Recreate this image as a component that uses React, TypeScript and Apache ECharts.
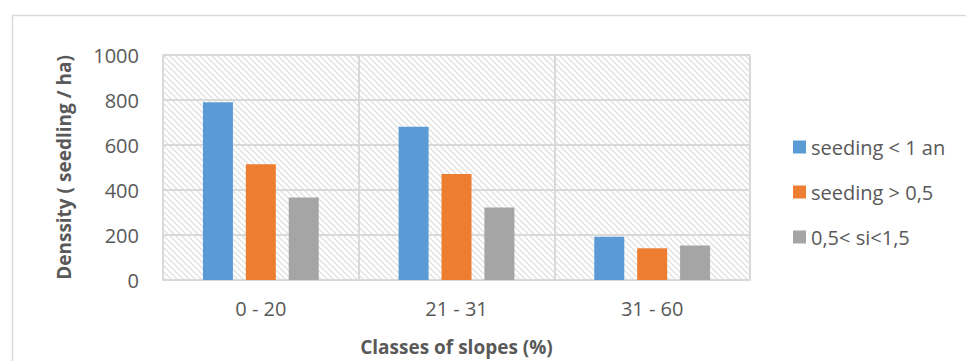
import React, { useEffect, useRef } from "react";
import * as echarts from "echarts";

const categories = ["0 - 20", "21 - 31", "31 - 60"];
const seriesNames = ["seeding < 1 an", "seeding > 0,5", "0,5< si<1,5"];
const seedingUnder1 = [790, 681, 192];
const seedingOver05 = [515, 471, 141];
const seedingBetween = [367, 322, 153];
const yTicks = [0, 200, 400, 600, 800, 1000];

const colors = ["#5B9BD5", "#ED7D31", "#A5A5A5"];
const textColor = "#595959";
const gridColor = "#D9D9D9";
const fontFamily = "'Open Sans', 'Liberation Sans', sans-serif";

function makeHatch(): HTMLCanvasElement {
  const size = 6;
  const c = document.createElement("canvas");
  c.width = size;
  c.height = size;
  const ctx = c.getContext("2d")!;
  ctx.fillStyle = "#ffffff";
  ctx.fillRect(0, 0, size, size);
  ctx.strokeStyle = "#E0E0E0";
  ctx.lineWidth = 1.3;
  ctx.beginPath();
  ctx.moveTo(-1, -1);
  ctx.lineTo(size + 1, size + 1);
  ctx.moveTo(-1, size - 1);
  ctx.lineTo(1, size + 1);
  ctx.moveTo(size - 1, -1);
  ctx.lineTo(size + 1, 1);
  ctx.stroke();
  return c;
}

export default function App() {
  const ref = useRef<HTMLDivElement>(null);

  useEffect(() => {
    if (!ref.current) return;
    const chart = echarts.init(ref.current, undefined, { renderer: "svg" });
    const values = [seedingUnder1, seedingOver05, seedingBetween];

    chart.setOption({
      animation: false,
      backgroundColor: "#ffffff",
      textStyle: { fontFamily },
      graphic: [
        {
          type: "rect",
          left: 10,
          top: 13,
          shape: { width: 1000, height: 400 },
          style: { fill: "none", stroke: gridColor, lineWidth: 1.5 },
          silent: true,
        },
      ],
      grid: {
        left: 163,
        right: 216,
        top: 55,
        bottom: 79,
        show: true,
        borderWidth: 0,
        backgroundColor: { image: makeHatch(), repeat: "repeat" },
      },
      legend: {
        orient: "vertical",
        left: 788,
        top: 131,
        icon: "rect",
        itemWidth: 13,
        itemHeight: 13,
        itemGap: 23,
        textStyle: { color: textColor, fontSize: 20, lineHeight: 22, fontFamily },
        data: seriesNames,
      },
      xAxis: {
        type: "category",
        data: categories,
        axisLine: { show: true, lineStyle: { color: gridColor, width: 2 } },
        axisTick: { show: false },
        axisLabel: { color: textColor, fontSize: 20, margin: 18 },
        splitLine: { show: true, lineStyle: { color: gridColor, width: 2 } },
        name: "Classes of slopes (%)",
        nameLocation: "middle",
        nameGap: 57,
        nameTextStyle: { color: textColor, fontSize: 19, fontWeight: "bold" },
      },
      yAxis: {
        type: "value",
        min: 0,
        max: yTicks[yTicks.length - 1],
        interval: yTicks[1] - yTicks[0],
        axisLine: { show: false },
        axisTick: { show: false },
        axisLabel: {
          color: textColor,
          fontSize: 20,
          margin: 24,
          formatter: (v: number) => String(v),
        },
        splitLine: { show: true, lineStyle: { color: gridColor, width: 2 } },
        name: "Denssity ( seedling / ha)",
        nameLocation: "middle",
        nameGap: 90,
        nameTextStyle: { color: textColor, fontSize: 19, fontWeight: "bold" },
      },
      series: seriesNames.map((name, i) => ({
        name,
        type: "bar",
        data: values[i],
        barWidth: 30,
        barGap: "43%",
        itemStyle: { color: colors[i] },
      })),
    });

    return () => chart.dispose();
  }, []);

  return (
    <div
      ref={ref}
      style={{ position: "absolute", left: 0, top: 0, width: 966, height: 361 }}
    />
  );
}
